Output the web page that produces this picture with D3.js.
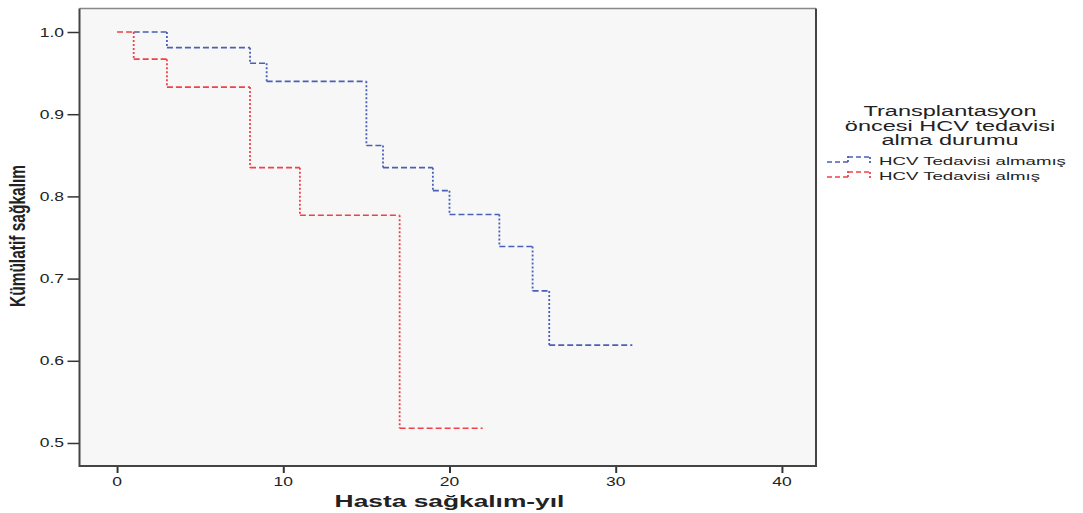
<!DOCTYPE html>
<html>
    <head>
        <meta charset="utf-8" />
        <script src="https://d3js.org/d3.v7.min.js"></script>
        <style>
            body {
                margin: 0;
                background: #fff;
            }
            text {
                font-family: "Liberation Sans", Arial, sans-serif;
                fill: #222;
            }
        </style>
    </head>
    <body>
        <svg id="chart" width="1083" height="513"></svg>
        <script>
            // Kaplan-Meier steps
            var almamisTimes = [1, 3, 8, 9, 15, 16, 19, 20, 23, 25, 26, 31];
            var almamisSurv = [1.0, 0.981, 0.962, 0.940, 0.862, 0.835, 0.807, 0.778, 0.739, 0.685, 0.619, 0.619];

            var almisTimes = [0, 1, 3, 8, 11, 17, 22];
            var almisSurv = [1.0, 0.967, 0.933, 0.835, 0.777, 0.518, 0.518];

            var groupNames = ["HCV Tedavisi almamış", "HCV Tedavisi almış"];
            var groupColors = ["#4a60b6", "#f0424a"];

            var xTicks = [0, 10, 20, 30, 40];
            var yTicks = [0.5, 0.6, 0.7, 0.8, 0.9, 1.0];

            var legendTitle = ["Transplantasyon", "öncesi HCV tedavisi", "alma durumu"];

            var svg = d3.select("#chart");

            var plotL = 79.5, plotR = 816, plotT = 8.5, plotB = 466;

            var x = d3.scaleLinear().domain([-2.26, 42.05]).range([plotL, plotR]);
            var y = d3.scaleLinear().domain([0.472, 1.0286]).range([plotB, plotT]);

            svg.append("rect")
                .attr("x", plotL).attr("y", plotT)
                .attr("width", plotR - plotL).attr("height", plotB - plotT)
                .attr("fill", "#f7f7f7");

            // the original picture is stretched sideways, so text is widened
            function label(txt, px, py, size, anchor, sx, weight) {
                return svg.append("text")
                    .attr("transform", "translate(" + px + "," + py + ") scale(" + sx + ",1)")
                    .attr("text-anchor", anchor)
                    .attr("font-size", size)
                    .attr("font-weight", weight || "normal")
                    .text(txt);
            }

            // y axis
            var yAxis = svg.append("g")
                .attr("transform", "translate(" + plotL + ",0)")
                .call(d3.axisLeft(y).tickValues(yTicks).tickSize(12).tickFormat(""));
            yAxis.select(".domain").remove();
            yAxis.selectAll("line").attr("stroke", "#333").attr("stroke-width", 1.5);
            yTicks.forEach(function(t) {
                label(d3.format(".1f")(t), 64, y(t) + 4.5, 12.5, "end", 1.4);
            });

            // x axis
            var xAxis = svg.append("g")
                .attr("transform", "translate(0," + plotB + ")")
                .call(d3.axisBottom(x).tickValues(xTicks).tickSize(7).tickFormat(""));
            xAxis.select(".domain").remove();
            xAxis.selectAll("line").attr("stroke", "#333").attr("stroke-width", 2);
            xTicks.forEach(function(t) {
                label(t, x(t), 486, 12.5, "middle", 1.4);
            });

            // frame
            svg.append("line").attr("x1", plotL).attr("x2", plotR).attr("y1", plotT).attr("y2", plotT)
                .attr("stroke", "#888").attr("stroke-width", 1.5);
            svg.append("path")
                .attr("d", "M" + plotL + "," + plotT + "V" + plotB + "H" + plotR + "V" + plotT)
                .attr("fill", "none").attr("stroke", "#444").attr("stroke-width", 2);

            // step curves: dashed horizontals, dotted verticals
            function drawSteps(times, surv, color) {
                var g = svg.append("g");
                for (var i = 0; i < times.length - 1; i++) {
                    g.append("line")
                        .attr("x1", x(times[i])).attr("x2", x(times[i + 1]))
                        .attr("y1", y(surv[i])).attr("y2", y(surv[i]))
                        .attr("stroke", color).attr("stroke-width", 1.6)
                        .attr("stroke-dasharray", "6,3");
                    if (surv[i + 1] !== surv[i]) {
                        g.append("line")
                            .attr("x1", x(times[i + 1])).attr("x2", x(times[i + 1]))
                            .attr("y1", y(surv[i])).attr("y2", y(surv[i + 1]))
                            .attr("stroke", color).attr("stroke-width", 1.8)
                            .attr("stroke-dasharray", "2,2");
                    }
                }
            }
            drawSteps(almamisTimes, almamisSurv, groupColors[0]);
            drawSteps(almisTimes, almisSurv, groupColors[1]);

            // axis titles
            svg.append("text")
                .attr("transform", "translate(25,236) scale(1.4,1) rotate(-90)")
                .attr("text-anchor", "middle")
                .attr("font-size", 15.5)
                .attr("font-weight", "bold")
                .attr("fill", "#111")
                .text("Kümülatif sağkalım");

            label("Hasta sağkalım-yıl", x(20), 506.5, 17, "middle", 1.55, "bold").attr("fill", "#111");

            // legend
            legendTitle.forEach(function(line, i) {
                label(line, 950, 116 + i * 14.5, 14, "middle", 1.68);
            });

            groupNames.forEach(function(name, i) {
                var ly = 162 + i * 15;
                var c = groupColors[i];
                svg.append("path")
                    .attr("d", "M827," + ly + "H848")
                    .attr("stroke", c).attr("stroke-width", 1.5).attr("fill", "none")
                    .attr("stroke-dasharray", "5,3");
                svg.append("path")
                    .attr("d", "M848," + ly + "V" + (ly - 6) + "M870," + (ly - 5) + "V" + (ly + 1))
                    .attr("stroke", c).attr("stroke-width", 1.8).attr("fill", "none")
                    .attr("stroke-dasharray", "2,2");
                svg.append("path")
                    .attr("d", "M848," + (ly - 5) + "H870")
                    .attr("stroke", c).attr("stroke-width", 1.5).attr("fill", "none")
                    .attr("stroke-dasharray", "5,3");
                label(name, 879, ly + 2.5, 11.5, "start", 1.62);
            });
        </script>
    </body>
</html>
